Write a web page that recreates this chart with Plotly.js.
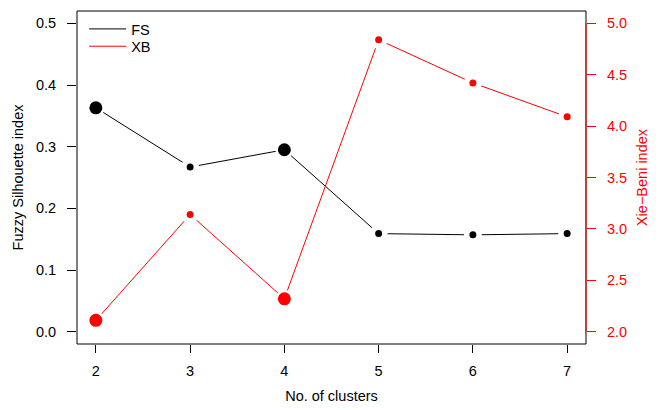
<!DOCTYPE html>
<html>
<head>
<meta charset="utf-8">
<script src="https://cdn.plot.ly/plotly-3.0.0.min.js"></script>
<style>html,body{margin:0;padding:0;background:#fff;}#chart{width:661px;height:410px;}</style>
</head>
<body>
<div id="chart"></div>
<script>
// Data
const clusters = [2, 3, 4, 5, 6, 7];
const fsValues = [0.363, 0.267, 0.295, 0.159, 0.157, 0.159];
const xbValues = [2.11, 3.14, 2.32, 4.84, 4.42, 4.09];
const highlighted = [2, 4]; // cluster counts drawn with large points
const leftTicks = [0.0, 0.1, 0.2, 0.3, 0.4, 0.5];
const rightTicks = [2.0, 2.5, 3.0, 3.5, 4.0, 4.5, 5.0];

// big points: fill r=6.5, small: fill r=3.5; white halo to r≈9 mimics R type="b" gaps
const sizes = clusters.map(k => highlighted.includes(k) ? 15.5 : 12.5);
const halo = clusters.map(k => highlighted.includes(k) ? 2.5 : 5.5);
const FONT = 'Liberation Sans, Arial, Helvetica, sans-serif';
const FS = 14.5;

const traces = [
  {x: clusters, y: fsValues, mode: 'lines+markers', yaxis: 'y', showlegend: false,
   line: {color: '#000000', width: 1},
   marker: {color: '#000000', size: sizes, opacity: 1, line: {color: '#ffffff', width: halo}}},
  {x: clusters, y: xbValues, mode: 'lines+markers', yaxis: 'y2', showlegend: false,
   line: {color: '#FF0000', width: 1},
   marker: {color: '#FF0000', size: sizes, opacity: 1, line: {color: '#ffffff', width: halo}}},
  {x: [null], y: [null], mode: 'lines', name: 'FS', legend: 'legend', line: {color: '#000000', width: 1}},
  {x: [null], y: [null], mode: 'lines', name: 'XB', legend: 'legend2', line: {color: '#FF0000', width: 1}}
];

const legendBase = {xanchor: 'left', yanchor: 'middle', bgcolor: 'rgba(0,0,0,0)',
                    font: {family: FONT, size: FS}, itemwidth: 37};

const layout = {
  width: 661, height: 410,
  margin: {l: 77, r: 75, t: 11, b: 66},
  paper_bgcolor: '#ffffff', plot_bgcolor: '#ffffff',
  font: {family: FONT, size: FS, color: '#000000'},
  showlegend: true,
  legend: Object.assign({x: 0.014, y: 0.946}, legendBase),
  legend2: Object.assign({x: 0.014, y: 0.894}, legendBase),
  xaxis: {range: [1.8, 7.2], tickvals: clusters, ticktext: clusters.map(String),
          ticks: 'outside', ticklen: 8, tickcolor: '#000', showgrid: false, zeroline: false,
          showline: false, ticklabelstandoff: 6,
          title: {text: 'No. of clusters', font: {family: FONT, size: FS}, standoff: 12}},
  yaxis: {range: [-0.02, 0.52], tickvals: leftTicks, ticktext: leftTicks.map(v => v.toFixed(1)),
          ticks: 'outside', ticklen: 9, tickcolor: '#000', showgrid: false, zeroline: false,
          showline: false, ticklabelstandoff: 8,
          title: {text: 'Fuzzy Silhouette index', font: {family: FONT, size: FS}, standoff: 8}},
  yaxis2: {overlaying: 'y', side: 'right', range: [1.88, 5.12], tickvals: rightTicks,
           ticktext: rightTicks.map(v => v.toFixed(1)),
           ticks: 'outside', ticklen: 9, tickcolor: '#FF0000', showgrid: false, zeroline: false,
           showline: false, ticklabelstandoff: 8, tickfont: {color: '#FF0000', family: FONT, size: FS},
           title: {text: 'Xie\u2212Beni index', font: {family: FONT, size: FS, color: '#FF0000'}, standoff: 10}},
  shapes: [
    {type: 'rect', xref: 'paper', yref: 'paper', x0: 0, x1: 1, y0: 0, y1: 1,
     line: {color: '#000000', width: 1}, layer: 'above'},
    {type: 'line', xref: 'paper', yref: 'y2', x0: 1, x1: 1, y0: 2.0, y1: 5.0,
     line: {color: '#FF0000', width: 1}, layer: 'above'}
  ]
};

Plotly.newPlot('chart', traces, layout, {staticPlot: true, displayModeBar: false});
</script>
</body>
</html>
